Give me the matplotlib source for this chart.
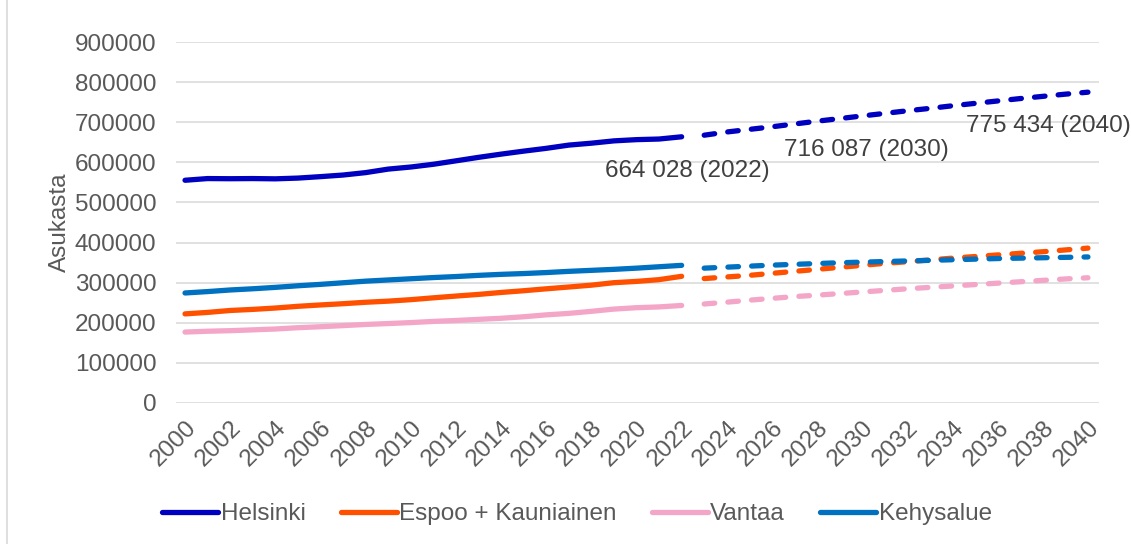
import matplotlib
matplotlib.use("Agg")
import matplotlib.pyplot as plt
from matplotlib.lines import Line2D

plt.rcParams['font.family'] = ['Liberation Sans', 'DejaVu Sans']

# toteutunut väestö 2000-2022
years_hist = list(range(2000, 2023))
helsinki_hist = [555474, 559718, 559330, 559716, 559046, 560905, 564521, 568531,
                 574564, 583350, 588549, 595384, 603968, 612664, 620715, 628208,
                 635181, 643272, 648042, 653835, 656920, 658457, 664028]
espoo_hist = [221800, 225500, 230300, 233000, 236400, 240700, 244100, 247200,
              250800, 253600, 257300, 261900, 266300, 270400, 275300, 279600,
              284400, 288900, 293500, 299700, 302900, 307300, 315600]
vantaa_hist = [176386, 178471, 179856, 181890, 184039, 187281, 189711, 192522,
               195397, 197636, 200055, 203001, 205312, 208098, 210803, 214605,
               219341, 223027, 228166, 233775, 237231, 239206, 242819]
kehys_hist = [274000, 277500, 281500, 284500, 288000, 292000, 295500, 299500,
              303500, 306500, 309500, 312500, 315000, 318000, 320500, 322500,
              325000, 328000, 330500, 333000, 336000, 339500, 343000]

# ennuste 2023-2040
years_proj = list(range(2023, 2041))
helsinki_proj = [668000, 676000, 682500, 689000, 696000, 703000, 709500, 716087,
                 722500, 729000, 735000, 741500, 747500, 753500, 759500, 765000,
                 770500, 775434]
espoo_proj = [310000, 314000, 318000, 323000, 328000, 333000, 338000, 343000,
              348000, 352000, 356500, 361000, 365000, 369000, 373000, 377000,
              381500, 386000]
vantaa_proj = [246500, 251000, 256000, 260500, 265000, 268500, 272500, 276500,
               280500, 284500, 288000, 291500, 295000, 298500, 302000, 305500,
               309000, 312000]
kehys_proj = [336000, 338500, 341000, 343500, 345500, 347500, 349500, 351000,
              352500, 354000, 355500, 357000, 358500, 360000, 361000, 362000,
              363000, 364000]

names = ['Helsinki', 'Espoo + Kauniainen', 'Vantaa', 'Kehysalue']
colors = ['#0000C0', '#FF5000', '#F4A6C8', '#0070C0']
hist = [helsinki_hist, espoo_hist, vantaa_hist, kehys_hist]
proj = [helsinki_proj, espoo_proj, vantaa_proj, kehys_proj]

label_years = [2022, 2030, 2040]
label_values = [664028, 716087, 775434]
label_offsets = [(6, -34), (4, -34), (-40, -34)]

text_grey = '#595959'
fs = 17.5

fig = plt.figure(figsize=(11.31, 5.44), dpi=100)
ax = fig.add_axes([176 / 1131, 1 - 402.7 / 544, (1099 - 176) / 1131, (402.7 - 42.3) / 544])

lw = 3.8
for name, c, h, p in zip(names, colors, hist, proj):
    ax.plot(years_hist, h, color=c, lw=lw, solid_capstyle='round', label=name)
    ax.plot(years_proj, p, color=c, lw=lw, linestyle=(0, (2.0, 2.5)),
            dash_capstyle='round')

for yr, val, off in zip(label_years, label_values, label_offsets):
    txt = f"{val:,}".replace(',', ' ') + f" ({yr})"
    ax.annotate(txt, xy=(yr, val), xytext=off, textcoords='offset pixels',
                ha='center', va='center', fontsize=fs, color='#404040',
                annotation_clip=False)

ax.set_xlim(1999.6, 2040.49)
ax.set_ylim(0, 900000)
ax.set_yticks(range(0, 900001, 100000))
ax.set_xticks(range(2000, 2041, 2))
ax.set_xticklabels([str(y) for y in range(2000, 2041, 2)], rotation=45,
                   ha='right', va='top', rotation_mode='anchor')
ax.tick_params(axis='both', length=0, labelsize=fs, labelcolor=text_grey)
ax.tick_params(axis='y', pad=14)
ax.tick_params(axis='x', pad=10)
ax.grid(axis='y', color='#D9D9D9', lw=1.1)
ax.set_axisbelow(True)
for s in ax.spines.values():
    s.set_visible(False)

ax.set_ylabel('Asukasta', fontsize=fs, color=text_grey, labelpad=3)

# kaavion reunaviiva vasemmalla
fig.add_artist(Line2D([7 / 1131, 7 / 1131], [0, 1], color='#D9D9D9', lw=1.2,
                      transform=fig.transFigure))

leg = fig.legend(loc='center', bbox_to_anchor=(577 / 1131, 1 - 514 / 544), ncol=4,
                 frameon=False, fontsize=fs, handlelength=2.3, handletextpad=0.1,
                 columnspacing=1.45)
for t in leg.get_texts():
    t.set_color(text_grey)

fig.savefig('out.png', dpi=100)
